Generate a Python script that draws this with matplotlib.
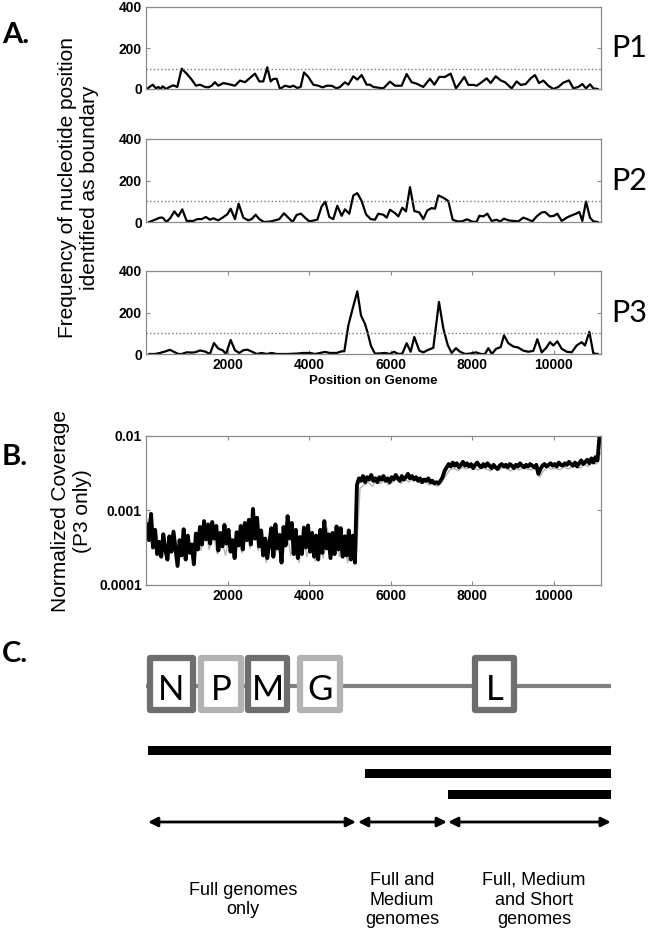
import matplotlib.pyplot as plt
import numpy as np
from matplotlib.patches import Rectangle
from matplotlib.ticker import NullLocator

# ---- Panel A: frequency of position called as boundary ----
p1_pos = [20, 164, 245, 303, 360, 409, 491, 589, 671, 769,
          875, 998, 1120, 1227, 1325, 1447, 1529, 1611, 1693, 1774,
          1897, 2020, 2183, 2306, 2428, 2674, 2780, 2878, 2976, 3058,
          3124, 3205, 3287, 3410, 3532, 3614, 3712, 3794, 3876, 3982,
          4105, 4227, 4334, 4432, 4554, 4677, 4759, 4881, 4963, 5086,
          5184, 5290, 5413, 5495, 5577,
          5822, 5985, 6108, 6271, 6394, 6517, 6640, 6803, 6967, 7073,
          7195, 7334, 7474, 7604, 7702, 7809, 7907, 8029, 8111, 8234,
          8357, 8455, 8577, 8700, 8806, 8970, 9093, 9191, 9313, 9436,
          9542, 9640, 9747, 9869, 9992, 10115, 10237, 10376, 10482, 10605,
          10703, 10793, 10891, 10973, 11079]
p1_freq = [0, 21, 3, 10, 0, 13, 0, 11, 18, 10,
           99, 75, 46, 16, 21, 10, 8, 16, 33, 16,
           29, 24, 16, 41, 33, 75, 37, 37, 106, 37,
           49, 50, 0, 16, 10, 16, 5, 10, 81, 59,
           21, 16, 8, 16, 16, 3, 10, 33, 21, 62,
           46, 68, 21, 21, 10,
           3, 36, 16, 16, 73, 33, 26, 10, 50, 21,
           59, 59, 75, 3, 29, 59, 20, 20, 16, 33,
           52, 29, 62, 42, 33, 3, 37, 20, 24, 52,
           68, 29, 41, 16, 0, 10, 31, 42, 3, 10,
           24, 3, 23, 3, 0]

p2_pos = [82, 221, 343, 409, 507, 605, 695, 793, 891, 998,
          1161, 1259, 1366, 1472, 1570, 1652, 1774, 1881, 1995, 2077,
          2183, 2273, 2388, 2510, 2592, 2690, 2780, 2895, 3042, 3164,
          3271, 3385, 3491, 3598, 3696, 3802, 3900, 4007, 4129, 4203,
          4309, 4399, 4497, 4595, 4693, 4800, 4881, 4988, 5086, 5184,
          5290, 5397, 5511, 5617,
          5699, 5822, 5904, 5985, 6108, 6190, 6288, 6378, 6476, 6582,
          6705, 6803, 6901, 7007, 7089, 7171, 7294, 7416, 7523, 7637,
          7743, 7882, 7989, 8111, 8177, 8275, 8373, 8479, 8602, 8684,
          8782, 8888, 9011, 9133, 9256, 9354, 9477, 9583, 9706, 9788,
          9910, 10008, 10090, 10197, 10319, 10442, 10548, 10630, 10703, 10793,
          10891, 10973, 11079]
p2_freq = [0, 11, 21, 21, 0, 21, 51, 27, 61, 5,
           5, 14, 14, 24, 11, 18, 8, 21, 37, 64,
           14, 88, 21, 8, 14, 35, 14, 0, 2, 8,
           14, 42, 21, 0, 34, 40, 21, 3, 8, 11,
           75, 98, 24, 14, 78, 30, 61, 40, 128, 139,
           101, 37, 14, 11,
           40, 35, 21, 59, 43, 27, 69, 51, 168, 53,
           46, 14, 56, 67, 64, 128, 117, 101, 11, 3,
           3, 13, 2, 0, 30, 27, 40, 5, 11, 2,
           16, 8, 5, 3, 21, 14, 3, 27, 46, 48,
           27, 30, 40, 5, 21, 32, 40, 48, 5, 99,
           21, 3, 0]

p3_pos = [82, 221, 343, 466, 589, 671, 793, 875, 998, 1120,
          1202, 1325, 1447, 1570, 1668, 1774, 1881, 1963, 2077, 2183,
          2290, 2388, 2486, 2592, 2715, 2838, 2960, 3083, 3205, 3451,
          3696, 3860, 4023, 4146, 4268, 4391, 4513, 4677, 4800, 4865,
          4963, 5070, 5184, 5274, 5372, 5438, 5520, 5617,
          5740, 5863, 5985, 6083, 6190, 6288, 6394, 6492, 6582, 6705,
          6803, 6926, 7048, 7187, 7294, 7400, 7498, 7604, 7702, 7825,
          7948, 8095, 8218, 8316, 8397, 8487, 8586, 8700, 8782, 8888,
          9011, 9133, 9256, 9379, 9501, 9599, 9706, 9812, 9910, 9992,
          10090, 10197, 10319, 10442, 10564, 10687, 10769, 10875, 10973, 11079]
p3_freq = [0, 0, 5, 12, 20, 12, 0, 0, 8, 7,
           8, 17, 12, 0, 53, 26, 18, 0, 68, 18,
           5, 18, 21, 12, 0, 5, 0, 5, 0, 0,
           2, 5, 5, 0, 5, 10, 5, 5, 13, 13,
           137, 219, 302, 186, 145, 102, 38, 2,
           3, 5, 0, 11, 0, 2, 52, 11, 82, 16,
           8, 20, 30, 251, 123, 44, 5, 28, 11, 0,
           2, 8, 0, 0, 28, 0, 25, 33, 90, 52,
           36, 31, 16, 11, 15, 71, 8, 28, 57, 41,
           61, 25, 11, 8, 41, 57, 41, 107, 3, 0]

threshold = 100
genome_len = 11161
a_ticks = [2000, 4000, 6000, 8000, 10000]

# ---- Panel B: normalized coverage, P3 only (units of 1e-4) ----
cov_pos = list(range(25, 11126, 50))
cov_black_e4 = [6.5, 4.0, 9.0, 3.2, 5.5, 2.6, 3.8, 2.4, 4.8, 3.0,
                2.2, 4.5, 2.8, 5.2, 3.1, 1.8, 4.0, 2.5, 5.6, 2.2,
                4.6, 2.7, 3.5, 1.9, 4.9, 3.0, 6.0, 3.5, 7.2, 4.1,
                6.5, 3.6, 7.0, 4.2, 6.2, 2.9, 5.0, 3.3, 6.4, 3.6,
                5.5, 2.8, 4.0, 2.3, 5.1, 3.4, 6.2, 3.0, 6.8, 4.0,
                7.5, 3.5, 10.5, 4.2, 8.0, 3.3, 5.4, 2.5, 4.2, 2.3,
                3.6, 5.8, 2.4, 6.5, 3.1, 4.7, 2.0, 6.0, 3.4, 8.4,
                4.2, 6.8, 2.6, 5.5, 2.3, 4.4, 2.6, 5.9, 3.2, 6.3,
                2.8, 5.0, 2.4, 4.6, 2.2, 5.5, 2.7, 7.2, 3.1, 4.8,
                2.3, 5.0, 2.6, 6.1, 3.0, 5.8, 2.4, 4.5, 2.5, 5.4,
                2.2, 4.6, 2.0,
                22, 27, 25, 29, 24, 28, 26, 30, 25, 27,
                24, 28, 26, 29, 25, 27, 24, 28, 26, 30,
                27, 25, 29, 26, 28, 31, 27, 29, 26, 28,
                25, 27, 24, 26, 25, 27, 24, 25, 23, 24, 23, 25, 28,
                34, 38, 42, 39, 44, 40, 43, 38, 41, 45,
                40, 43, 39, 42, 37, 41, 44, 40, 38, 42,
                39, 43, 40, 37, 41, 38, 36, 40, 42, 39,
                41, 38, 42, 40, 37, 41, 39, 43, 40, 38,
                41, 39, 42, 40, 38, 41, 31, 36, 40, 42,
                39, 41, 43, 40, 42, 39, 44, 41, 40, 43,
                41, 45, 42, 40, 44, 39, 43, 47, 42, 45,
                48, 43, 50, 44, 52, 47, 100]
cov_gray_pos = list(range(50, 11151, 100))
cov_gray_e4 = [7.5, 3.0, 4.2, 2.4, 3.6, 2.1, 4.8, 2.6, 3.9, 2.2,
               3.3, 2.2, 5.0, 2.9, 5.6, 3.0, 4.9, 2.6, 4.3, 2.5,
               4.5, 2.4, 5.2, 2.7, 6.0, 3.1, 8.8, 2.9, 4.6, 2.0,
               4.9, 2.4, 3.8, 2.2, 5.6, 2.5, 4.4, 2.0, 4.8, 2.4,
               4.0, 2.1, 4.5, 2.3, 5.8, 2.2, 5.0, 2.4, 4.2, 2.0,
               3.9, 1.9, 20, 22, 24, 21, 25, 23, 26, 22,
               24, 27, 23, 26, 24, 28, 25, 23, 24, 22,
               23, 21, 24, 29, 35, 37, 34, 38, 36, 39,
               37, 35, 38, 36, 34, 37, 35, 38, 36, 34,
               37, 35, 38, 36, 35, 37, 28, 34, 38, 36,
               37, 35, 39, 36, 38, 40, 37, 42, 39, 45,
               42, 60]

# ---- Panel C: genome schematic (nt) ----
genes = ['N', 'P', 'M', 'G', 'L']
gene_start = [100, 1350, 2500, 3780, 8070]
gene_end = [1150, 2330, 3460, 4760, 9030]
gene_edge = ['#6e6e6e', '#b3b3b3', '#6e6e6e', '#b3b3b3', '#6e6e6e']
schema_end = 11400
read_start = [50, 5370, 7410]
arrow_left = [50, 5200, 7410]
arrow_right = [5150, 7380, 11400]
region_labels = ['Full genomes\nonly', 'Full and\nMedium\ngenomes',
                 'Full, Medium\nand Short\ngenomes']
region_label_x = [2380, 6280, 9520]

W, H = 650, 934
SPINE = '#8a8a8a'
TICKFONT = dict(family='Liberation Sans', size=10, weight='bold')


def frac(left, top, right, bottom):
    return [left / W, 1 - bottom / H, (right - left) / W, (bottom - top) / H]


def style_axes(ax):
    for s in ax.spines.values():
        s.set_color(SPINE)
        s.set_linewidth(0.9)
    ax.tick_params(direction='in', length=3, color=SPINE, right=True, pad=3)
    for lab in ax.get_xticklabels() + ax.get_yticklabels():
        lab.set_fontproperties(TICKFONT)


def make_plot():
    fig = plt.figure(figsize=(W / 100, H / 100), dpi=100)

    # Panel A
    boxes = [(7, 89), (139, 222), (271, 354)]
    series = [(p1_pos, p1_freq), (p2_pos, p2_freq), (p3_pos, p3_freq)]
    for i, ((top, bot), (pos, freq)) in enumerate(zip(boxes, series)):
        ax = fig.add_axes(frac(146, top, 601, bot))
        ax.plot(pos, freq, color='black', linewidth=1.6)
        ax.axhline(threshold, color='#7a7a7a', linestyle=':', linewidth=1.0)
        ax.set_xlim(1, genome_len)
        ax.set_ylim(0, 400)
        ax.set_yticks([0, 200, 400])
        if i < 2:
            ax.set_xticks([])
        else:
            ax.set_xticks(a_ticks)
            ax.tick_params(axis='x', top=True)
            ax.set_xlabel('Position on Genome', fontsize=9.5, weight='bold',
                          family='Liberation Sans', labelpad=2)
        style_axes(ax)
        fig.text(611 / W, 1 - (top + bot) / 2 / H, 'P%d' % (i + 1), family='Lato',
                 fontsize=22, ha='left', va='center')

    fig.text(79 / W, 1 - 188 / H, 'Frequency of nucleotide position\nidentified as boundary',
             rotation=90, ha='center', va='center', multialignment='center',
             family='Liberation Sans', fontsize=15)

    # Panel B
    axb = fig.add_axes(frac(146, 436, 601, 585))
    axb.plot(cov_gray_pos, np.array(cov_gray_e4) * 1e-4, color='#b5b5b5', linewidth=1.0)
    axb.plot(cov_pos, np.array(cov_black_e4) * 1e-4, color='black', linewidth=2.8)
    axb.set_yscale('log')
    axb.set_xlim(1, genome_len)
    axb.set_ylim(1e-4, 1e-2)
    axb.set_yticks([1e-4, 1e-3, 1e-2])
    axb.set_yticklabels(['0.0001', '0.001', '0.01'])
    axb.yaxis.set_minor_locator(NullLocator())
    axb.set_xticks(a_ticks)
    axb.tick_params(axis='x', top=True)
    style_axes(axb)
    fig.text(71 / W, 1 - 511 / H, 'Normalized Coverage\n(P3 only)',
             rotation=90, ha='center', va='center', multialignment='center',
             family='Liberation Sans', fontsize=15)

    # Panel letters
    for letter, y in [('A.', 35), ('B.', 457), ('C.', 654)]:
        fig.text(2 / W, 1 - y / H, letter, family='Lato', weight='bold',
                 fontsize=21, ha='left', va='center')

    # Panel C
    axc = fig.add_axes([146 / W, 0, 466 / W, 294 / H])
    axc.set_xlim(0, 11430)
    axc.set_ylim(934, 640)
    axc.axis('off')

    axc.plot([0, schema_end], [686, 686], color='#7f7f7f', linewidth=3, solid_capstyle='butt',
             zorder=1)
    for name, s, e, ec in zip(genes, gene_start, gene_end, gene_edge):
        axc.add_patch(Rectangle((s, 658), e - s, 52, facecolor='white', edgecolor=ec,
                                linewidth=4.5, joinstyle='round', zorder=2))
        axc.text((s + e) / 2, 687, name, family='Lato', fontsize=25, ha='center',
                 va='center_baseline', zorder=3)

    axc.barh([750.5, 773, 794.5], [schema_end - s for s in read_start], left=read_start,
             height=9, color='black')

    for l, r in zip(arrow_left, arrow_right):
        axc.annotate('', xy=(r, 822), xytext=(l, 822),
                     arrowprops=dict(arrowstyle='<|-|>', color='black', lw=2,
                                     mutation_scale=14, shrinkA=0, shrinkB=0))

    for lab, x in zip(region_labels, region_label_x):
        axc.text(x, 900, lab, family='Liberation Sans', fontsize=13, ha='center',
                 va='center', multialignment='center')

    fig.savefig('out.png', dpi=100)


if __name__ == "__main__":
    make_plot()
